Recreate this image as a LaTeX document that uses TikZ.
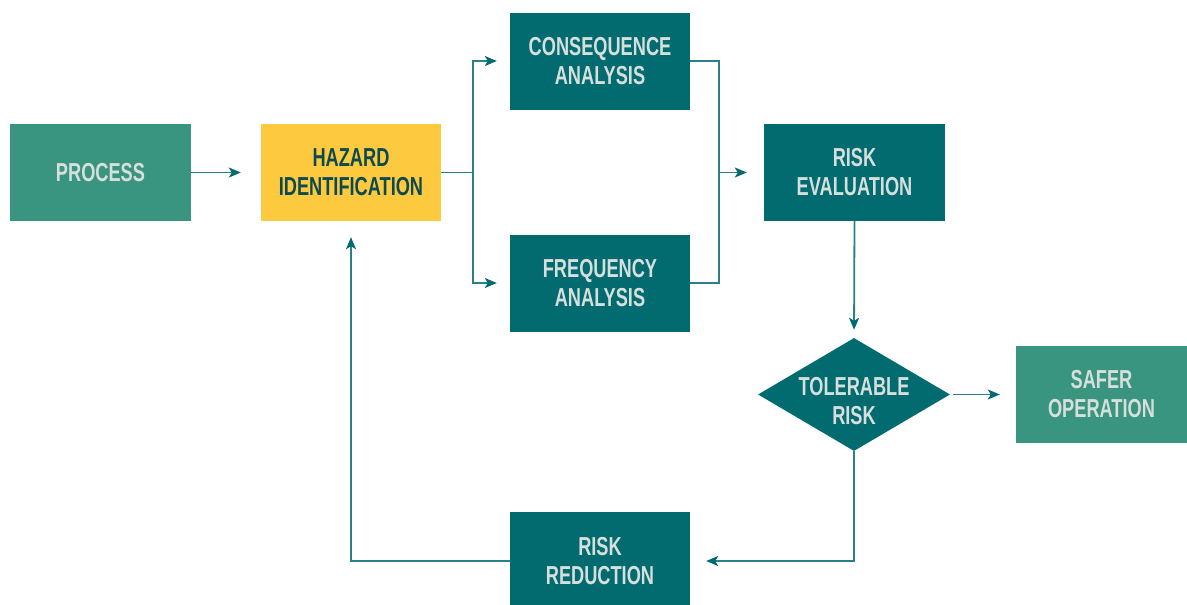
\documentclass[tikz,border=0pt]{standalone}
\usepackage{fontspec}
\setmainfont[FakeStretch=0.7]{Liberation Sans}
\usetikzlibrary{shapes.geometric,arrows.meta}
\definecolor{tealdark}{HTML}{016B70}
\definecolor{tealgreen}{HTML}{3A9580}
\definecolor{hazardyellow}{HTML}{FDC93F}
\definecolor{textlight}{HTML}{D6DFDC}
\definecolor{textdark}{HTML}{0C4A50}
\definecolor{linecol}{HTML}{2A8087}
\tikzset{
  labelfont/.style={font=\bfseries\fontsize{26}{29}\selectfont},
  box/.style={rectangle, inner sep=0pt, minimum width=180pt, minimum height=97pt,
    align=center, text=textlight, labelfont},
  darkbox/.style={box, fill=tealdark},
  greenbox/.style={box, fill=tealgreen},
  yellowbox/.style={box, fill=hazardyellow, text=textdark},
  decision/.style={diamond, fill=tealdark, inner sep=0pt, minimum width=192pt,
    minimum height=113pt},
  decisiontext/.style={align=center, text=textlight, labelfont},
  link/.style={draw=linecol, line width=1.8pt},
  arr/.style={link, -{Stealth[length=12pt,width=10pt,inset=3pt,color=tealdark]}}
}
\begin{document}
\begin{tikzpicture}[x=1pt,y=-1pt]
\useasboundingbox (0,0) rectangle (1187,605);
\begin{scope}
\clip (0,0) rectangle (1187,605);
\node[greenbox, minimum width=181pt] (process) at (100.5,172.5) {PROCESS};
\node[yellowbox] (hazard) at (351,172.5) {HAZARD\\IDENTIFICATION};
\node[darkbox] (conseq) at (600,61) {CONSEQUENCE\\ANALYSIS};
\node[darkbox] (freq) at (600,283) {FREQUENCY\\ANALYSIS};
\node[darkbox, minimum width=181pt] (evalr) at (854.5,172.5) {RISK\\EVALUATION};
\node[decision] (tol) at (854,394.5) {};
\node[decisiontext] (toltext) at ([yshift=-7pt]tol.center) {TOLERABLE\\RISK};
\node[greenbox, minimum width=171pt] (safer) at (1101.5,394.5) {SAFER\\OPERATION};
\node[darkbox, minimum height=98pt] (reduce) at (600,561) {RISK\\REDUCTION};
\end{scope}

\coordinate (split) at (473,172.5);
\coordinate (join) at (719,172.5);

\draw[arr, shorten >=20pt] (process.east) -- (hazard.west);
\draw[link] (hazard.east) -- (split);
\draw[arr, shorten >=13pt] (split) |- (conseq.west);
\draw[arr, shorten >=13pt] (split) |- (freq.west);
\draw[link] (conseq.east) -| (join);
\draw[link] (freq.east) -| (join);
\draw[arr, shorten >=17pt] (join) -- (evalr.west);
\draw[arr, shorten >=8pt] (evalr.south) -- (tol.north);
\draw[arr, shorten <=3pt, shorten >=16pt] (tol.east) -- (safer.west);
\draw[arr, shorten >=16pt] (tol.south) |- (reduce.east);
\draw[arr, shorten >=16pt] (reduce.west) -| (hazard.south);
\end{tikzpicture}
\end{document}
